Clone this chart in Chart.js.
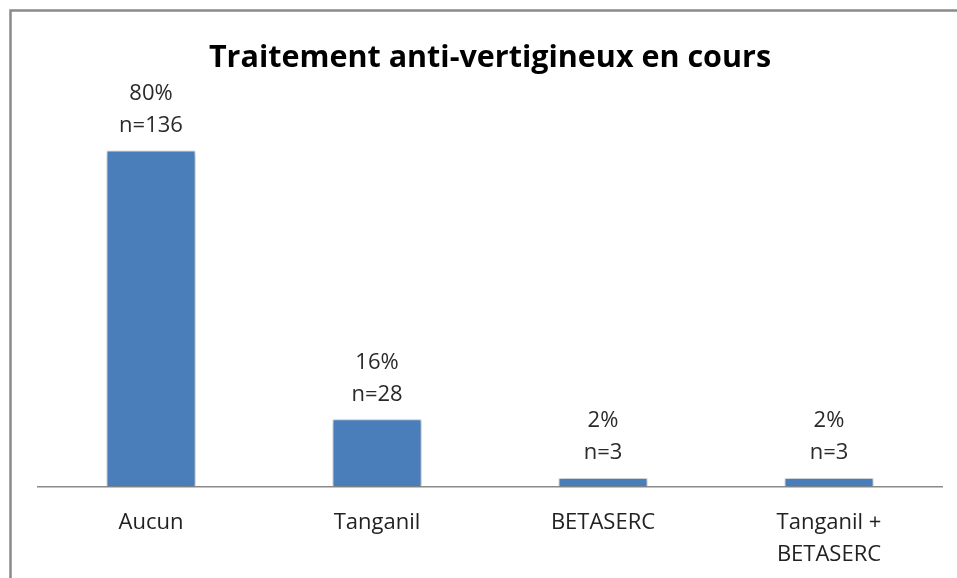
<!DOCTYPE html>
<html>
<head>
<meta charset="utf-8">
<script src="https://cdn.jsdelivr.net/npm/chart.js@4/dist/chart.umd.min.js"></script>
<style>
html,body{margin:0;padding:0;background:#fff;}
#wrap{position:relative;width:957px;height:578px;}
</style>
</head>
<body>
<div id="wrap"><canvas id="c" width="957" height="578"></canvas></div>
<script>
const categories = ["Aucun", "Tanganil", "BETASERC", ["Tanganil +", "BETASERC"]];
const percentages = [80, 16, 2, 2];
const counts = [136, 28, 3, 3];
const titleText = "Traitement anti-vertigineux en cours";

const FONT = "'Open Sans', Lato, sans-serif";

const frame = {
  id: 'frame',
  beforeDraw(chart) {
    const ctx = chart.ctx;
    ctx.save();
    ctx.fillStyle = '#fff';
    ctx.fillRect(0, 0, chart.width, chart.height);
    ctx.strokeStyle = '#8a8a8a';
    ctx.lineWidth = 2.5;
    ctx.beginPath();
    ctx.moveTo(10.5, chart.height + 5);
    ctx.lineTo(10.5, 10.5);
    ctx.lineTo(chart.width + 5, 10.5);
    ctx.stroke();
    ctx.restore();
  }
};

const shadow = {
  id: 'shadow',
  beforeDatasetsDraw(chart) {
    const ctx = chart.ctx;
    ctx.save();
    ctx.shadowColor = 'rgba(0,0,0,0.35)';
    ctx.shadowBlur = 5;
    ctx.shadowOffsetX = 1;
    ctx.shadowOffsetY = 1;
  },
  afterDatasetsDraw(chart) {
    chart.ctx.restore();
  }
};

const labels = {
  id: 'labels',
  afterDatasetsDraw(chart) {
    const ctx = chart.ctx;
    const meta = chart.getDatasetMeta(0);
    ctx.save();
    ctx.fillStyle = '#2a2a2a';
    ctx.font = "22px " + FONT;
    ctx.textAlign = 'center';
    ctx.textBaseline = 'middle';
    meta.data.forEach((bar, i) => {
      ctx.fillText(percentages[i] + '%', bar.x, bar.y - 57);
      ctx.fillText('n=' + counts[i], bar.x, bar.y - 25);
    });
    ctx.restore();
  }
};

new Chart(document.getElementById('c'), {
  type: 'bar',
  data: {
    labels: categories,
    datasets: [{
      data: percentages,
      backgroundColor: '#4a7ebb',
      borderColor: '#dfe6ef',
      borderWidth: 1,
      categoryPercentage: 1,
      barPercentage: 0.394
    }]
  },
  options: {
    responsive: false,
    animation: false,
    layout: { padding: { left: 38, right: 15, top: 10, bottom: -13 } },
    plugins: {
      legend: { display: false },
      tooltip: { enabled: false },
      title: {
        display: true,
        text: titleText,
        color: '#000',
        font: { family: FONT, size: 30.5, weight: 'bold' },
        padding: { top: 30, bottom: 0 }
      }
    },
    scales: {
      x: {
        grid: { display: false, drawTicks: false },
        border: { display: true, color: '#8a8a8a', width: 1.5 },
        ticks: {
          color: '#222',
          font: { family: FONT, size: 22, lineHeight: 1.42 },
          padding: 21,
          maxRotation: 0,
          autoSkip: false
        }
      },
      y: {
        display: false,
        min: 0,
        max: 97.6
      }
    }
  },
  plugins: [frame, shadow, labels]
});
</script>
</body>
</html>
